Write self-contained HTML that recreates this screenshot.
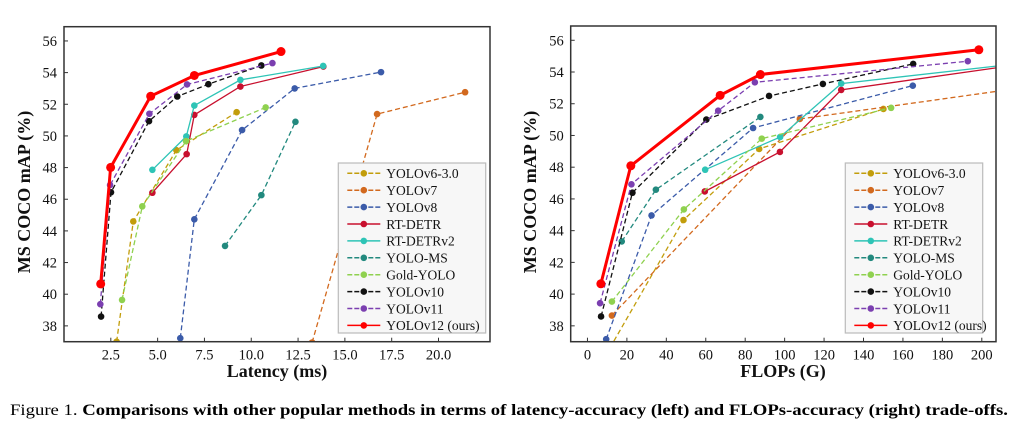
<!DOCTYPE html>
<html><head><meta charset="utf-8"><style>
html,body{margin:0;padding:0;background:#fff;}
svg{display:block;font-family:"Liberation Serif",serif;}
</style></head><body>
<svg id="fig" width="1015" height="430" viewBox="0 0 1015 430">
<defs>
<clipPath id="clipL"><rect x="64" y="26.7" width="426" height="315"/></clipPath>
<clipPath id="clipR"><rect x="570.7" y="26" width="425.3" height="315.7"/></clipPath>
</defs>
<g id="plots"></g>
<text x="10" y="415" font-size="16.2" textLength="998" lengthAdjust="spacingAndGlyphs">Figure 1. <tspan font-weight="bold">Comparisons with other popular methods in terms of latency-accuracy (left) and FLOPs-accuracy (right) trade-offs.</tspan></text>
</svg>
<script>
const seriesNames = ["YOLOv6-3.0","YOLOv7","YOLOv8","RT-DETR","RT-DETRv2","YOLO-MS","Gold-YOLO","YOLOv10","YOLOv11","YOLOv12 (ours)"];
const seriesColors = ["#c29d0b","#d2691e","#3b5ba9","#c8102e","#2ec4b6","#22897e","#8fd14f","#111111","#7b3fb0","#ff0000"];
const seriesDash = [true,true,true,false,false,true,true,true,true,false];
const yTicks = [38,40,42,44,46,48,50,52,54,56];
const latTicks = ["2.5","5.0","7.5","10.0","12.5","15.0","17.5","20.0"];
const flopTicks = ["0","20","40","60","80","100","120","140","160","180","200"];
const latX = [
 [2.81,3.70,6.0,9.22],
 [13.25,16.72,21.42],
 [6.21,6.96,9.51,12.32,16.93],
 [4.72,6.55,6.96,9.42,13.85],
 [4.72,6.53,6.96,9.42,13.84],
 [8.6,10.54,12.36],
 [3.10,4.18,6.52,10.77],
 [1.98,2.51,4.54,6.05,7.71,10.54],
 [1.94,2.46,4.56,6.57,11.13],
 [1.96,2.49,4.63,6.96,11.59]
];
const latY = [
 [37.0,44.6,49.1,51.5],
 [36.95,51.38,52.76],
 [37.22,44.73,50.37,53.0,54.03],
 [46.41,48.85,51.33,53.12,54.38],
 [47.86,49.97,51.92,53.54,54.42],
 [43.05,46.26,50.89],
 [39.64,45.55,49.67,51.8],
 [38.59,46.44,50.93,52.49,53.27,54.45],
 [39.37,46.9,51.4,53.25,54.6],
 [40.65,48.01,52.51,53.82,55.33]
];
const flopX = [
 [11.4,48.7,87.1,150.1],
 [12.4,107.7,260],
 [9.5,32.5,84.0,165.0],
 [59.5,97.6,128.7,259],
 [59.7,97.7,128.7,259],
 [17.4,34.7,87.7],
 [12.4,48.9,88.4,154.0],
 [6.9,22.8,60.3,92.1,119.4,165.2],
 [6.4,22.3,66.3,84.9,192.9],
 [6.8,22.0,67.3,87.7,198.5]
];
const flopY = [
 [36.6,44.67,49.15,51.67],
 [38.65,51.04,53.7],
 [37.16,44.96,50.47,53.14],
 [46.47,48.96,52.87,55.18],
 [47.84,49.9,53.27,55.1],
 [43.32,46.58,51.17],
 [39.53,45.34,49.8,51.74],
 [38.59,46.39,51.0,52.49,53.25,54.51],
 [39.43,46.92,51.56,53.35,54.68],
 [40.65,48.09,52.53,53.84,55.4]
];
const NS="http://www.w3.org/2000/svg";
const root=document.getElementById('plots');
function mk(tag,attrs,parent){const e=document.createElementNS(NS,tag);for(const k in attrs)e.setAttribute(k,attrs[k]);(parent||root).appendChild(e);return e;}

function drawPlot(cfg){
 const g=mk('g',{});
 
 
 const sx=v=>cfg.x0+(v-cfg.xmin)*(cfg.x1-cfg.x0)/(cfg.xmax-cfg.xmin);
 const sy=v=>cfg.y1-(v-37)*(cfg.y1-cfg.y0)/(56.9-37);
 yTicks.forEach(t=>{
  const y=sy(t);
  mk('line',{x1:cfg.x0,x2:cfg.x0+4,y1:y,y2:y,stroke:'#333','stroke-width':1},g);
  const tx=mk('text',{x:cfg.x0-7,y:y+5,'text-anchor':'end','font-size':14.5,fill:'#111'},g);
  tx.textContent=t;
  
  
 });
 cfg.ticks.forEach(t=>{
  const x=sx(parseFloat(t));
  mk('line',{x1:x,x2:x,y1:cfg.y1,y2:cfg.y1-4,stroke:'#333','stroke-width':1},g);
  const tx=mk('text',{x:x,y:cfg.y1+18,'text-anchor':'middle','font-size':14.5,fill:'#111'},g);
  tx.textContent=t;
  
  
 });
 const sg=mk('g',{'clip-path':'url(#'+cfg.clip+')'},g);
 seriesNames.forEach((n,i)=>{
  const xs=cfg.X[i], ys=cfg.Y[i];
  const pts=xs.map((v,j)=>sx(v).toFixed(1)+','+sy(ys[j]).toFixed(1)).join(' ');
  const isMain=i===9;
  const pl=mk('polyline',{points:pts,fill:'none',stroke:seriesColors[i],'stroke-width':isMain?3:1.3,'stroke-dasharray':seriesDash[i]?'5,3':'none'},sg);
  
  
  xs.forEach((v,j)=>{
   const c=mk('circle',{cx:sx(v),cy:sy(ys[j]),r:isMain?4.5:3.3,fill:seriesColors[i]},sg);
   
   
  });
 });
 const fr=mk('rect',{x:cfg.x0,y:cfg.y0t,width:cfg.x1-cfg.x0,height:cfg.y1-cfg.y0t,fill:'none',stroke:'#333','stroke-width':1.5},g);
 
 
 const xt=mk('text',{x:cfg.xtx,y:377,'text-anchor':'middle','font-size':18,'font-weight':'bold',fill:'#111'},g);
 xt.textContent=cfg.xtitle;
 
 
 const yt=mk('text',{x:0,y:0,'text-anchor':'middle','font-size':18,'font-weight':'bold',fill:'#111',transform:'translate('+cfg.ytx+',192) rotate(-90)'},g);
 yt.textContent='MS COCO mAP (%)';
 
 
 const lg=mk('g',{},g);
 
 
 mk('rect',{x:cfg.lx,y:163,width:cfg.lw,height:170,fill:'#f7f7f7',stroke:'#bbb','stroke-width':1.2},lg);
 seriesNames.forEach((n,i)=>{
  const y=173.3+i*16.9;
  const e=mk('g',{},lg);
  
  
  mk('line',{x1:cfg.lx+9,x2:cfg.lx+42,y1:y,y2:y,stroke:seriesColors[i],'stroke-width':1.5,'stroke-dasharray':seriesDash[i]?'5,2':'none'},e);
  mk('circle',{cx:cfg.lx+25.5,cy:y,r:3.3,fill:seriesColors[i]},e);
  const t=mk('text',{x:cfg.lx+48,y:y+4.8,'font-size':13.5,fill:'#111'},e);
  t.textContent=n;
 });
}
drawPlot({name:'latency-chart',x0:64,x1:490,xmin:0,xmax:22.75,y0:26.7,y0t:26.7,y1:341.7,ticks:latTicks,X:latX,Y:latY,clip:'clipL',xtitle:'Latency (ms)',xtx:277,ytx:30,lx:338.3,lw:147.4});
drawPlot({name:'flops-chart',x0:570.7,x1:996,xmin:-8.5,xmax:207.2,y0:26,y0t:26,y1:341.7,ticks:flopTicks,X:flopX,Y:flopY,clip:'clipR',xtitle:'FLOPs (G)',xtx:783,ytx:536,lx:845.3,lw:137.4});
</script>
</body></html>
